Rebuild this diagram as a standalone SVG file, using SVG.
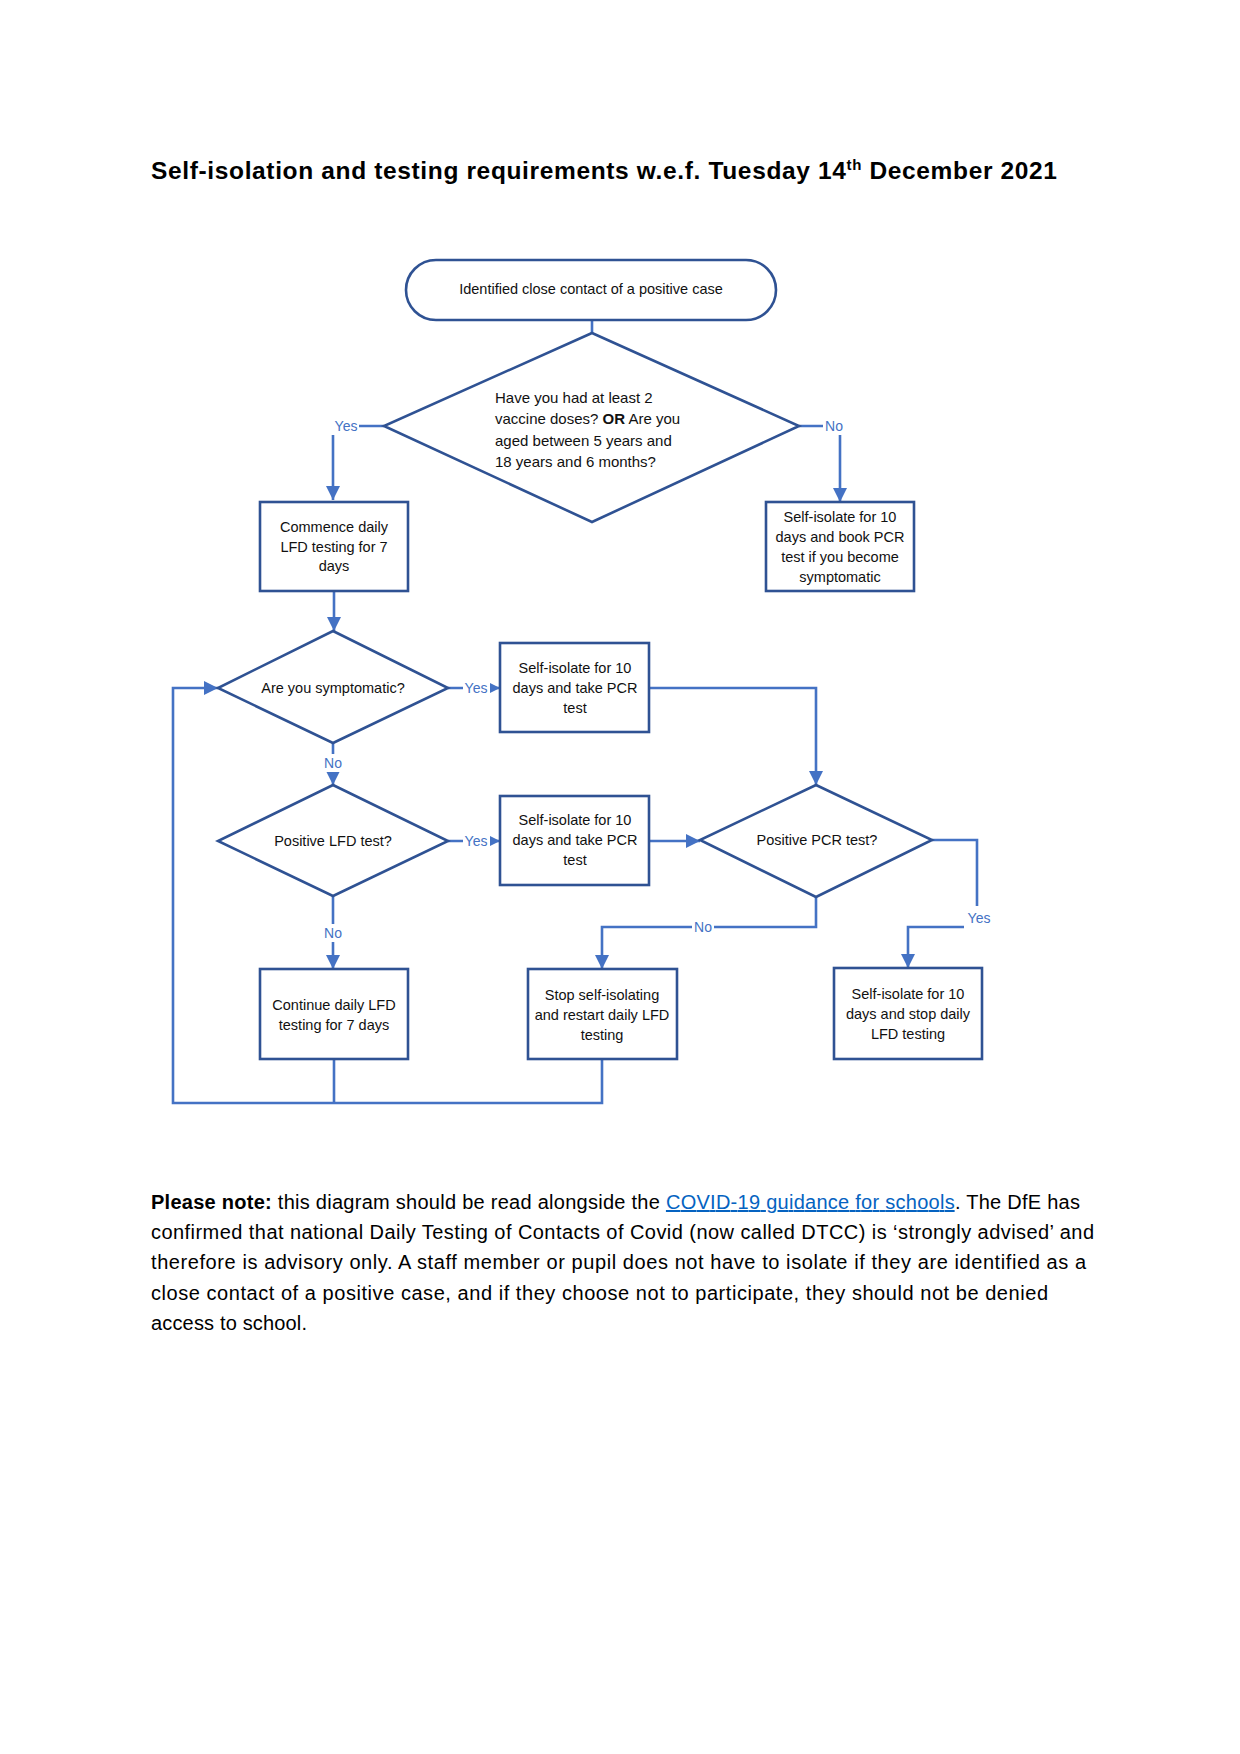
<svg xmlns="http://www.w3.org/2000/svg" width="1240" height="1754" viewBox="0 0 1240 1754">
<style>
.node{fill:#fff;stroke:#2F5293;stroke-width:2.6}
.t{font-family:"Liberation Sans",Arial,sans-serif;font-size:14.5px;fill:#111;text-anchor:middle}
.c{fill:none;stroke:#4472C4;stroke-width:2.6}
.lbl{font-family:"Liberation Sans",Arial,sans-serif;font-size:14px;fill:#4472C4;text-anchor:middle}
.bg{fill:#fff}
.p{font-family:"Liberation Sans",Arial,sans-serif;font-size:20px;fill:#000}
</style>
<defs>
<marker id="ah" viewBox="0 0 10 10" refX="10" refY="5" markerUnits="userSpaceOnUse" markerWidth="14" markerHeight="16" orient="auto">
<path d="M0,0 L10,5 L0,10 z" fill="#4472C4"/>
</marker>
</defs>
<rect width="1240" height="1754" fill="#fff"/>
<text x="151" y="179" font-family="Liberation Sans,Arial,sans-serif" font-size="24.5" font-weight="bold" textLength="906" lengthAdjust="spacing">Self-isolation and testing requirements w.e.f. Tuesday 14<tspan font-size="15" dy="-9">th</tspan><tspan dy="9"> December 2021</tspan></text>

<g id="connectors">
<path class="c" d="M592,320 L592,333"/>
<path class="c" d="M384,426 L333,426 L333,500" marker-end="url(#ah)"/>
<path class="c" d="M799,426 L840,426 L840,502" marker-end="url(#ah)"/>
<path class="c" d="M334,591 L334,631" marker-end="url(#ah)"/>
<path class="c" d="M448,688 L500,688" marker-end="url(#ah)"/>
<path class="c" d="M649,688 L816,688 L816,785" marker-end="url(#ah)"/>
<path class="c" d="M333,743 L333,785" marker-end="url(#ah)"/>
<path class="c" d="M448,841 L500,841" marker-end="url(#ah)"/>
<path class="c" d="M649,841 L700,841" marker-end="url(#ah)"/>
<path class="c" d="M932,840 L977,840 L977,927 L908,927 L908,968" marker-end="url(#ah)"/>
<path class="c" d="M816,897 L816,927 L602,927 L602,969" marker-end="url(#ah)"/>
<path class="c" d="M333,896 L333,969" marker-end="url(#ah)"/>
<path class="c" d="M334,1059 L334,1103"/>
<path class="c" d="M602,1059 L602,1103 L173,1103 L173,688 L218,688" marker-end="url(#ah)"/>
<rect class="bg" x="331" y="416" width="28" height="19"/>
<text class="lbl" x="346" y="431">Yes</text>
<rect class="bg" x="823" y="416" width="22" height="19"/>
<text class="lbl" x="834" y="431">No</text>
<rect class="bg" x="463" y="678" width="27" height="18"/>
<text class="lbl" x="476" y="693">Yes</text>
<rect class="bg" x="322" y="754" width="22" height="18"/>
<text class="lbl" x="333" y="768">No</text>
<rect class="bg" x="463" y="831" width="27" height="18"/>
<text class="lbl" x="476" y="846">Yes</text>
<rect class="bg" x="322" y="924" width="22" height="18"/>
<text class="lbl" x="333" y="938">No</text>
<rect class="bg" x="692" y="918" width="22" height="18"/>
<text class="lbl" x="703" y="932">No</text>
<rect class="bg" x="964" y="906" width="28" height="24"/>
<text class="lbl" x="979" y="923">Yes</text>
</g>

<g id="start">
<rect class="node" x="406" y="260" width="370" height="60" rx="30" ry="30"/>
<text class="t" x="591" y="294">Identified close contact of a positive case</text>
</g>

<g id="q-vaccine">
<path class="node" d="M592,333 L799,426 L592,522 L384,426 Z"/>
<text class="t" style="text-anchor:start;font-size:15px" x="495"><tspan x="495" y="403">Have you had at least 2</tspan><tspan x="495" y="424">vaccine doses? <tspan font-weight="bold">OR</tspan> Are you</tspan><tspan x="495" y="446">aged between 5 years and</tspan><tspan x="495" y="467">18 years and 6 months?</tspan></text>
</g>

<g id="commence">
<rect class="node" x="260" y="502" width="148" height="89"/>
<text class="t"><tspan x="334" y="532">Commence daily</tspan><tspan x="334" y="552">LFD testing for 7</tspan><tspan x="334" y="571">days</tspan></text>
</g>

<g id="isolate-book">
<rect class="node" x="766" y="502" width="148" height="89"/>
<text class="t"><tspan x="840" y="522">Self-isolate for 10</tspan><tspan x="840" y="542">days and book PCR</tspan><tspan x="840" y="562">test if you become</tspan><tspan x="840" y="582">symptomatic</tspan></text>
</g>

<g id="q-symptomatic">
<path class="node" d="M333,631 L448,688 L333,743 L218,688 Z"/>
<text class="t" x="333" y="693">Are you symptomatic?</text>
</g>

<g id="isolate-pcr1">
<rect class="node" x="500" y="643" width="149" height="89"/>
<text class="t"><tspan x="575" y="673">Self-isolate for 10</tspan><tspan x="575" y="693">days and take PCR</tspan><tspan x="575" y="713">test</tspan></text>
</g>

<g id="q-lfd">
<path class="node" d="M333,785 L448,841 L333,896 L218,841 Z"/>
<text class="t" x="333" y="846">Positive LFD test?</text>
</g>

<g id="isolate-pcr2">
<rect class="node" x="500" y="796" width="149" height="89"/>
<text class="t"><tspan x="575" y="825">Self-isolate for 10</tspan><tspan x="575" y="845">days and take PCR</tspan><tspan x="575" y="865">test</tspan></text>
</g>

<g id="q-pcr">
<path class="node" d="M816,785 L932,840 L816,897 L700,840 Z"/>
<text class="t" x="817" y="845">Positive PCR test?</text>
</g>

<g id="continue">
<rect class="node" x="260" y="969" width="148" height="90"/>
<text class="t"><tspan x="334" y="1010">Continue daily LFD</tspan><tspan x="334" y="1030">testing for 7 days</tspan></text>
</g>

<g id="stop">
<rect class="node" x="528" y="969" width="149" height="90"/>
<text class="t"><tspan x="602" y="1000">Stop self-isolating</tspan><tspan x="602" y="1020">and restart daily LFD</tspan><tspan x="602" y="1040">testing</tspan></text>
</g>

<g id="isolate-stop">
<rect class="node" x="834" y="968" width="148" height="91"/>
<text class="t"><tspan x="908" y="999">Self-isolate for 10</tspan><tspan x="908" y="1019">days and stop daily</tspan><tspan x="908" y="1039">LFD testing</tspan></text>
</g>

<g id="note">
<text class="p" x="151" y="1209" textLength="929" lengthAdjust="spacing"><tspan font-weight="bold">Please note:</tspan> this diagram should be read alongside the <tspan fill="#0563C1" text-decoration="underline">COVID-19 guidance for schools</tspan>. The DfE has</text>
<text class="p" x="151" y="1239" textLength="943" lengthAdjust="spacing">confirmed that national Daily Testing of Contacts of Covid (now called DTCC) is ‘strongly advised’ and</text>
<text class="p" x="151" y="1269" textLength="935" lengthAdjust="spacing">therefore is advisory only. A staff member or pupil does not have to isolate if they are identified as a</text>
<text class="p" x="151" y="1300" textLength="897" lengthAdjust="spacing">close contact of a positive case, and if they choose not to participate, they should not be denied</text>
<text class="p" x="151" y="1330" textLength="156" lengthAdjust="spacing">access to school.</text>
</g>
</svg>
